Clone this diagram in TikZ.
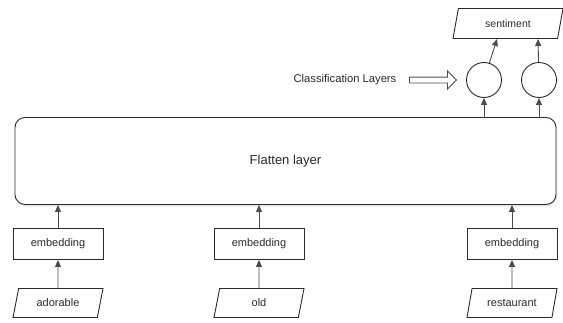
\documentclass[tikz,border=0pt]{standalone}
\usepackage{fontspec}
\setmainfont{Liberation Sans}
\usetikzlibrary{arrows.meta,shapes.geometric,shapes.arrows,shadows}

\definecolor{ink}{HTML}{2B2B2B}

\tikzset{
  embbox/.style={draw=ink, fill=white, minimum width=90pt, minimum height=31pt,
    inner sep=0pt, text=ink, font=\fontsize{11}{13}\selectfont},
  wordbox/.style={draw=ink, fill=white, trapezium, trapezium left angle=55,
    trapezium right angle=125, trapezium stretches body, minimum width=90pt,
    minimum height=29pt, inner sep=0pt, text=ink, font=\fontsize{11}{13}\selectfont},
  neuron/.style={draw=ink, fill=white, circle, minimum size=35pt, inner sep=0pt},
  arr/.style={draw=ink!85, -{Triangle[length=7pt,width=6pt]}},
}

\begin{document}
\begin{tikzpicture}[x=1pt,y=-1pt,line width=0.9pt]
  \useasboundingbox (0,0) rectangle (563,322);
  % Flatten
  \node[draw=ink, fill=white, rounded corners=10pt, minimum width=541pt,
    minimum height=87pt, text=ink, font=\fontsize{13}{15}\selectfont,
    drop shadow={opacity=0.2, shadow xshift=1pt, shadow yshift=-2pt}]
    (flat) at (285.5,161) {Flatten layer};
  % Ord och embeddings
  \foreach \x/\w/\n in {58/adorable/a, 259/old/b, 512/restaurant/c} {
    \node[wordbox] (w\n) at (\x,303) {\w};
    \node[embbox] (e\n) at (\x,244) {embedding};
    \draw[arr] (w\n) -- (e\n);
    \draw[arr] (e\n) -- (e\n |- flat.south);
  }
  % Klassificering
  \node[neuron] (c1) at (484,80) {};
  \node[neuron] (c2) at (539,80) {};
  \node[wordbox, minimum width=110pt, minimum height=30pt, font=\fontsize{10.5}{12}\selectfont]
    (sent) at (508,23.5) {sentiment};
  \draw[arr] (c1 |- flat.north) -- (c1);
  \draw[arr] (c2 |- flat.north) -- (c2);
  \draw[arr] (c1) -- ([xshift=-11pt]sent.south);
  \draw[arr] (c2) -- ([xshift=30pt]sent.south);
  \node[text=ink, font=\fontsize{11.2}{13}\selectfont] (cls) at (345,80) {Classification Layers};
  \node[draw=ink!85, single arrow, single arrow head extend=6pt, minimum height=47pt,
    inner sep=2.5pt] (clsarrow) at (431.5,80) {};
\end{tikzpicture}
\end{document}
